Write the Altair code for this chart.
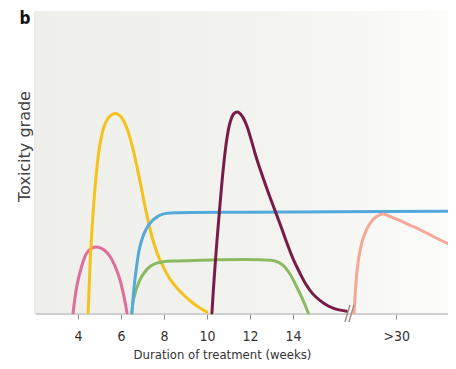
import altair as alt
import pandas as pd

# ---- data (weeks on x, toxicity grade on an arbitrary 0-100 scale) ----
pink_x = [3.77, 3.94, 4.15, 4.4, 4.65, 4.95, 5.25, 5.49, 5.75, 5.95, 6.12, 6.28]
pink_y = [0, 8.7, 15, 19.8, 21.5, 21.8, 20.7, 18.7, 15, 11, 6, 0]

yellow_x = [4.47, 4.52, 4.58, 4.7, 4.85, 5.0, 5.2, 5.4, 5.6, 5.8, 6.0, 6.2, 6.4, 6.6, 6.8,
            7.0, 7.2, 7.45, 7.7, 7.95, 8.3, 8.7, 9.1, 9.5, 10.0]
yellow_y = [0, 9, 19, 33, 46, 55, 61.5, 64.5, 65.8, 66, 65, 62.5, 58.5, 53, 46.5,
            39.5, 32.5, 25, 19.5, 15.5, 11, 7.5, 4.8, 2.5, 0.3]

green_x = [6.5, 6.6, 6.88, 7.1, 7.35, 7.65, 7.97, 8.5, 13.16, 13.5, 13.85, 14.17, 14.45, 14.71]
green_y = [0, 5, 11, 13.5, 15.4, 16.5, 17, 17.2, 17.2, 16, 13, 8.7, 4.5, 0]

blue_x = [6.51, 6.6, 6.7, 6.88, 7.15, 7.5, 7.97, 8.5, 12, 16, 21.21]
blue_y = [0, 8, 14, 22, 27.5, 30.9, 32.8, 33.2, 33.4, 33.5, 33.7]

maroon_x = [10.23, 10.3, 10.38, 10.47, 10.6, 10.76, 10.91, 11.07, 11.25, 11.45, 11.65, 11.85,
            12.05, 12.25, 12.5, 12.77, 13.0, 13.24, 13.5, 13.7, 14.0, 14.3, 14.6, 14.9,
            15.25, 15.6, 16.0, 16.5]
maroon_y = [0, 8, 16, 24.5, 35.5, 48, 57, 63, 66, 66.5, 65, 62,
            57.5, 52.5, 47, 41.5, 37, 32.5, 27.5, 23.5, 18, 13.5, 9.5, 6.5,
            4.2, 2.5, 1.3, 0.6]

salmon_x = [16.84, 16.9, 16.98, 17.1, 17.3, 17.55, 17.85, 18.2, 18.5, 18.9, 19.4, 19.9, 20.4, 20.9, 21.21]
salmon_y = [0, 7, 14, 20, 25.5, 29.3, 31.8, 32.8, 32, 30.8, 29.2, 27.6, 25.8, 24, 23]

series_names = ["pink", "yellow", "green", "blue", "maroon", "salmon"]
series_colors = ["#e06c9a", "#f5c21b", "#8cba62", "#52a9dc", "#781c47", "#f4a896"]
series_xs = [pink_x, yellow_x, green_x, blue_x, maroon_x, salmon_x]
series_ys = [pink_y, yellow_y, green_y, blue_y, maroon_y, salmon_y]

tick_values = [4, 6, 8, 10, 12, 14, 18.8]
tick_labels = ["4", "6", "8", "10", "12", "14", ">30"]

x_domain = [2, 21.21]
y_domain = [0, 100]

# axis-break slashes (two short slanted strokes on the x axis)
brk_x = [16.42, 16.60]
brk_x2 = [16.65, 16.84]
brk_y = [-3, -3]
brk_y2 = [2.7, 2.7]

rows = []
for name, xs, ys in zip(series_names, series_xs, series_ys):
    for i, (a, b) in enumerate(zip(xs, ys)):
        rows.append({"series": name, "week": a, "tox": b, "order": i})
df = pd.DataFrame(rows)

xscale = alt.Scale(domain=x_domain, nice=False, zero=False)
yscale = alt.Scale(domain=y_domain, nice=False, zero=False)

label_js = " : ".join(
    [f"datum.value == {v} ? '{l}'" for v, l in zip(tick_values, tick_labels)]
) + " : ''"

bg = alt.Chart(pd.DataFrame({"x": [x_domain[0]], "x2": [x_domain[1]], "y": [y_domain[0]], "y2": [y_domain[1]]})).mark_rect(
    color=alt.Gradient(
        gradient="linear",
        x1=0, x2=1, y1=0, y2=0,
        stops=[
            alt.GradientStop(color="#eeeeea", offset=0),
            alt.GradientStop(color="#f3f3f0", offset=0.6),
            alt.GradientStop(color="#fcfcfb", offset=1),
        ],
    )
).encode(
    x=alt.X("x:Q", scale=xscale,
            axis=alt.Axis(values=tick_values, labelExpr=label_js, title="Duration of treatment (weeks)",
                          titleX=187, titleY=45, titleAlign="center", titleBaseline="alphabetic",
                          labelBaseline="alphabetic", labelPadding=21)),
    x2="x2:Q",
    y=alt.Y("y:Q", scale=yscale,
            axis=alt.Axis(title="Toxicity grade", labels=False, ticks=False,
                          titleX=-11, titleY=135, titleAngle=-90, titleAlign="center",
                          titleBaseline="middle")),
    y2="y2:Q",
)

lines = alt.Chart(df).mark_line(strokeWidth=3, interpolate="catmull-rom", strokeCap="round").encode(
    x=alt.X("week:Q", scale=xscale),
    y=alt.Y("tox:Q", scale=yscale),
    color=alt.Color("series:N", scale=alt.Scale(domain=series_names, range=series_colors), legend=None),
    detail="series:N",
    order="order:Q",
)

brk = alt.Chart(pd.DataFrame({"x": brk_x, "x2": brk_x2, "y": brk_y, "y2": brk_y2})).mark_rule(
    color="#a88c8c", strokeWidth=1.5
).encode(
    x=alt.X("x:Q", scale=xscale), x2="x2:Q",
    y=alt.Y("y:Q", scale=yscale), y2="y2:Q",
)

panel = alt.Chart(pd.DataFrame({"t": ["b"]})).mark_text(
    font="DejaVu Sans Condensed", fontWeight="bold", fontSize=17, color="#111", align="center", baseline="alphabetic"
).encode(text="t:N", x=alt.value(-10), y=alt.value(13))

chart = alt.layer(bg, lines, brk, panel).properties(
    width=413, height=302,
    autosize=alt.AutoSizeParams(type="none"),
    padding={"left": 27, "top": 3, "right": 0, "bottom": 48},
    background="white",
).configure_view(stroke=None).configure_axis(
    grid=False,
    labelFont="DejaVu Sans Condensed",
    titleFont="DejaVu Sans Condensed",
    labelColor="#333",
    titleColor="#333",
).configure_axisX(
    domainColor="#cfcfcf", domainWidth=3, tickColor="#888", tickSize=6, tickWidth=1,
    labelFontSize=14, titleFontSize=13, titleFontWeight="normal",
).configure_axisY(
    domainColor="#d8d8d8", domainWidth=2, titleFont="DejaVu Sans", titleFontSize=16,
    titleFontWeight="normal", titleColor="#444",
)

chart.save("out.html", embed_options={"renderer": "svg", "actions": False})
